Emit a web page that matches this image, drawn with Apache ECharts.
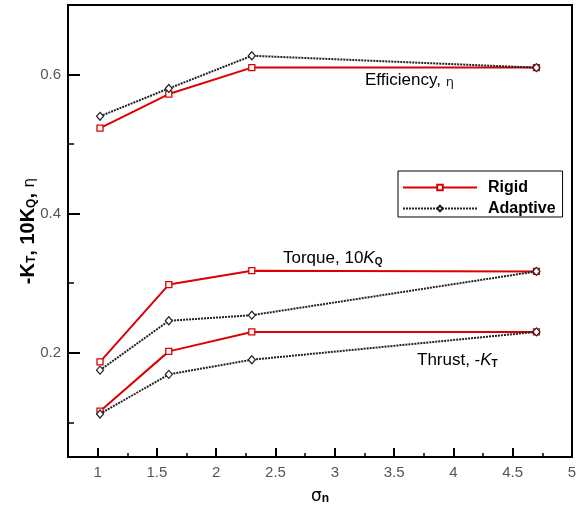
<!DOCTYPE html>
<html>
<head>
<meta charset="utf-8">
<script src="https://cdn.jsdelivr.net/npm/echarts@6/dist/echarts.min.js"></script>
<style>
  html, body { margin: 0; padding: 0; background: #fff; }
  #chart { width: 582px; height: 510px; }
</style>
</head>
<body>
<div id="chart"></div>
<script>
// Normal stress parameter values on the horizontal axis
var sigma = [1.02, 1.6, 2.3, 4.7];

// Rigid blade results
var rigidEff    = [0.523, 0.572, 0.61, 0.61];
var rigidTorque = [0.187, 0.298, 0.318, 0.317];
var rigidThrust = [0.116, 0.202, 0.23, 0.23];

// Adaptive blade results
var adaptEff    = [0.54, 0.58, 0.627, 0.61];
var adaptTorque = [0.175, 0.246, 0.254, 0.317];
var adaptThrust = [0.112, 0.169, 0.19, 0.23];

// Axis tick positions
var xMajor = [1, 1.5, 2, 2.5, 3, 3.5, 4, 4.5, 5];
var xMinor = [1.25, 1.75, 2.25, 2.75, 3.25, 3.75, 4.25, 4.75];
var yMajor = [0.2, 0.4, 0.6];
var yMinor = [0.1, 0.3, 0.5];

function pairs(xs, ys) {
  return xs.map(function (x, i) { return [x, ys[i]]; });
}

var RED = '#dd0000';
var DARK = '#222222';
var tickFont = { fontFamily: 'Liberation Sans', fontSize: 15, color: '#555' };

function rigidSeries(values) {
  return {
    name: 'Rigid', type: 'line', data: pairs(sigma, values),
    symbol: 'rect', symbolSize: 6,
    itemStyle: { color: '#fff', borderColor: RED, borderWidth: 1.3 },
    lineStyle: { color: RED, width: 2 },
    emphasis: { disabled: true }, z: 3
  };
}
function adaptSeries(values) {
  return {
    name: 'Adaptive', type: 'line', data: pairs(sigma, values),
    symbol: 'diamond', symbolSize: [7, 8],
    itemStyle: { color: '#fff', borderColor: DARK, borderWidth: 1.2 },
    lineStyle: { color: DARK, width: 2, type: [2, 1] },
    emphasis: { disabled: true }, z: 4
  };
}

// Annotation text styles
var noteRich = {
  t: { fontFamily: 'Liberation Sans', fontSize: 17, fill: '#000', lineHeight: 20, verticalAlign: 'bottom' },
  k: { fontFamily: 'Liberation Sans', fontStyle: 'italic', fontSize: 17, fill: '#000', lineHeight: 20, verticalAlign: 'bottom' },
  s: { fontFamily: 'Liberation Sans', fontWeight: 'bold', fontSize: 10, fill: '#000', lineHeight: 10, verticalAlign: 'bottom', padding: [5, 0, 0, 0] },
  e: { fontFamily: 'DejaVu Sans', fontSize: 13, fill: '#222', lineHeight: 20, verticalAlign: 'bottom' }
};

var chart = echarts.init(document.getElementById('chart'), null, { renderer: 'canvas' });

chart.setOption({
  animation: false,
  grid: {
    left: 68, right: 10, top: 5, bottom: 47,
    show: true, borderColor: '#000', borderWidth: 2, backgroundColor: 'transparent'
  },
  legend: {
    data: ['Rigid', 'Adaptive'],
    orient: 'vertical',
    left: 398, top: 171,
    padding: [8, 7, 0, 4],
    itemWidth: 74, itemHeight: 7, itemGap: 4,
    borderColor: '#000', borderWidth: 1,
    backgroundColor: '#fff',
    textStyle: { fontFamily: 'Liberation Sans', fontWeight: 'bold', fontSize: 16, lineHeight: 17, color: '#000', padding: [0, 0, 0, 6] }
  },
  xAxis: [{
    type: 'value', min: 0.75, max: 5,
    name: '{s|σ}{n|n}',
    nameLocation: 'middle', nameGap: 22,
    nameTextStyle: {
      rich: {
        s: { fontFamily: 'DejaVu Sans', fontSize: 17, color: '#000', lineHeight: 20, verticalAlign: 'bottom' },
        n: { fontFamily: 'Liberation Sans', fontWeight: 'bold', fontSize: 12, color: '#000', lineHeight: 12, verticalAlign: 'bottom', padding: [8, 0, 0, 0] }
      }
    },
    axisLine: { show: true, lineStyle: { color: '#000', width: 2 } },
    axisTick: { show: true, inside: true, length: 9, lineStyle: { color: '#000', width: 2 }, customValues: xMajor },
    axisLabel: Object.assign({ margin: 8, customValues: xMajor, formatter: function (v) { return String(v); } }, tickFont),
    splitLine: { show: false }
  }, {
    type: 'value', min: 0.75, max: 5, position: 'bottom',
    axisLine: { show: false },
    axisTick: { show: true, inside: true, length: 4, lineStyle: { color: '#000', width: 1.5 }, customValues: xMinor },
    axisLabel: { show: false },
    splitLine: { show: false }
  }],
  yAxis: [{
    type: 'value', min: 0.05, max: 0.7,
    name: '{b|-K}{s|T}{b|, 10K}{s|Q}{b|, }{e|η}',
    nameLocation: 'middle', nameGap: 30, nameRotate: 90,
    nameMoveOverlap: false,
    nameTextStyle: {
      rich: {
        b: { fontFamily: 'Liberation Sans', fontWeight: 'bold', fontSize: 20, color: '#000', lineHeight: 26, verticalAlign: 'bottom' },
        s: { fontFamily: 'Liberation Sans', fontWeight: 'bold', fontSize: 12, color: '#000', lineHeight: 12, verticalAlign: 'bottom', padding: [7, 0, 0, 0] },
        e: { fontFamily: 'DejaVu Sans', fontSize: 15, color: '#000', lineHeight: 26, verticalAlign: 'bottom' }
      }
    },
    axisLine: { show: true, lineStyle: { color: '#000', width: 2 } },
    axisTick: { show: true, inside: true, length: 12, lineStyle: { color: '#000', width: 2 }, customValues: yMajor },
    axisLabel: Object.assign({ margin: 7, customValues: yMajor, formatter: function (v) { return v.toFixed(1); } }, tickFont),
    splitLine: { show: false }
  }, {
    type: 'value', min: 0.05, max: 0.7, position: 'left',
    axisLine: { show: false },
    axisTick: { show: true, inside: true, length: 6, lineStyle: { color: '#000', width: 1.5 }, customValues: yMinor },
    axisLabel: { show: false },
    splitLine: { show: false }
  }],
  series: [
    rigidSeries(rigidEff),
    rigidSeries(rigidTorque),
    rigidSeries(rigidThrust),
    adaptSeries(adaptEff),
    adaptSeries(adaptTorque),
    adaptSeries(adaptThrust)
  ],
  graphic: [{
    type: 'text', left: 365, top: 72,
    style: { text: '{t|Efficiency, }{e|η}', rich: noteRich }
  }, {
    type: 'text', left: 283, top: 250,
    style: { text: '{t|Torque, 10}{k|K}{s|Q}', rich: noteRich }
  }, {
    type: 'text', left: 417, top: 352,
    style: { text: '{t|Thrust, -}{k|K}{s|T}', rich: noteRich }
  }]
});
</script>
</body>
</html>
